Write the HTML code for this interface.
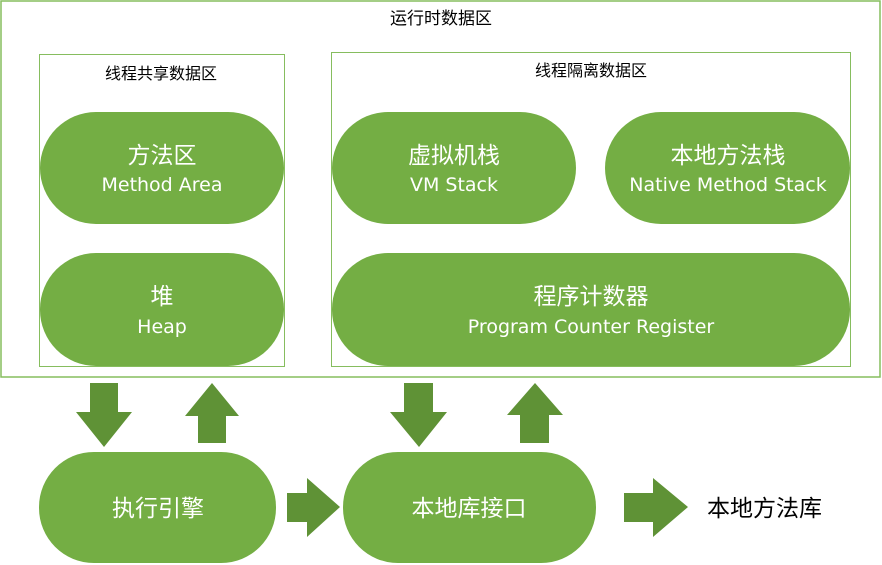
<!DOCTYPE html>
<html><head><meta charset="utf-8"><style>
html,body{margin:0;padding:0;background:#fff;width:882px;height:565px;overflow:hidden}
svg{display:block}
text{font-family:"Liberation Sans","Noto Sans CJK SC",sans-serif}
.en{font-family:"DejaVu Sans",sans-serif}
</style></head><body>
<svg width="882" height="565" viewBox="0 0 882 565" xmlns="http://www.w3.org/2000/svg">
<rect x="1" y="1" width="879" height="376" fill="#fff" stroke="#86bd5e" stroke-width="1.5"/>
<text x="441" y="24" font-size="17" text-anchor="middle" fill="#000">运行时数据区</text>
<rect x="39.5" y="54.5" width="245" height="312" fill="none" stroke="#86bd5e" stroke-width="1"/>
<text x="161" y="79" font-size="16" text-anchor="middle" fill="#000">线程共享数据区</text>
<rect x="331.5" y="52.5" width="519" height="314" fill="none" stroke="#86bd5e" stroke-width="1"/>
<text x="591" y="76" font-size="16" text-anchor="middle" fill="#000">线程隔离数据区</text>
<g fill="#74ae44">
<rect x="40" y="112" width="244" height="112" rx="56"/>
<rect x="40" y="253" width="244" height="113" rx="56"/>
<rect x="332" y="112" width="244" height="112" rx="56"/>
<rect x="605" y="112" width="245" height="112" rx="56"/>
<rect x="332" y="253" width="518" height="113" rx="56"/>
<rect x="39" y="452" width="237" height="111" rx="55"/>
<rect x="343" y="452" width="253" height="111" rx="55"/>
</g>
<g fill="#fff" font-size="23" text-anchor="middle">
<text x="162" y="163">方法区</text><text class="en" font-size="19" x="162" y="191">Method Area</text>
<text x="162" y="304">堆</text><text class="en" font-size="19" x="162" y="333">Heap</text>
<text x="454" y="163">虚拟机栈</text><text class="en" font-size="19" x="454" y="191">VM Stack</text>
<text x="728" y="163">本地方法栈</text><text class="en" font-size="19" x="728" y="191">Native Method Stack</text>
<text x="591" y="304">程序计数器</text><text class="en" font-size="19" x="591" y="333">Program Counter Register</text>
<text x="158" y="516">执行引擎</text>
<text x="469" y="516">本地库接口</text>
</g>
<g fill="#5f9236">
<polygon points="90,383 118,383 118,412 132,412 104,447 76,412 90,412"/>
<polygon points="212,383 239,416 226,416 226,443 198,443 198,416 185,416"/>
<polygon points="404,383 433,383 433,412 447,412 419,447 390,412 404,412"/>
<polygon points="535,383 563,415 549,415 549,443 520,443 520,415 507,415"/>
<polygon points="287,493 307,493 307,478 340,507 307,537 307,522 287,522"/>
<polygon points="624,493 653,493 653,478 688,507 653,537 653,522 624,522"/>
</g>
<text x="707" y="516" font-size="23" fill="#000">本地方法库</text>
</svg>
</body></html>
